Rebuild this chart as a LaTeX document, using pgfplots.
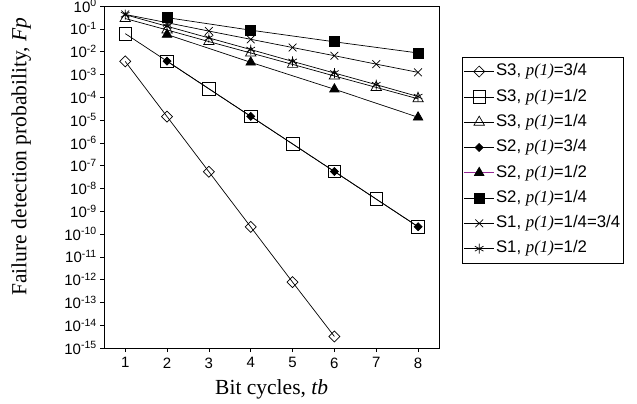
\documentclass[border=0pt]{standalone}
\usepackage{pgfplots}
\pgfplotsset{compat=1.18}
\usepackage{fontspec}
\setmainfont{Liberation Serif}
\newfontfamily\arial{Liberation Sans}
\definecolor{legpurple}{RGB}{150,40,150}
\newcommand\pp{{\rmfamily\itshape p(1)}}
\pgfplotsset{purplelegend/.style={legend image code/.code={\draw[legpurple, line width=0.7pt] (0pt,0pt) -- (30pt,0pt);
    \draw[##1] plot[only marks] coordinates {(15pt,0pt)};}}}
\begin{document}
\begin{tikzpicture}[x=1pt,y=1pt]
\useasboundingbox (-104.3,-56) rectangle (532.7,348);
\begin{axis}[
  at={(0pt,0pt)}, anchor=south west,
  scale only axis, width=334.7pt, height=342pt,
  xmin=0.5, xmax=8.5, ymode=log, ymin=1e-15, ymax=1,
  xtick={1,2,3,4,5,6,7,8},
  xticklabels={1,2,3,4,5,6,7,8},
  ytick={1e-15,1e-14,1e-13,1e-12,1e-11,1e-10,1e-9,1e-8,1e-7,1e-6,1e-5,1e-4,1e-3,1e-2,1e-1,1},
  yticklabels={10\textsuperscript{-15},10\textsuperscript{-14},10\textsuperscript{-13},10\textsuperscript{-12},10\textsuperscript{-11},10\textsuperscript{-10},10\textsuperscript{-9},10\textsuperscript{-8},10\textsuperscript{-7},10\textsuperscript{-6},10\textsuperscript{-5},10\textsuperscript{-4},10\textsuperscript{-3},10\textsuperscript{-2},10\textsuperscript{-1},10\textsuperscript{0}},
  yminorticks=false, xminorticks=false,
  tick align=outside, xtick pos=bottom, ytick pos=left,
  major tick length=4pt,
  tick style={black, line width=0.6pt},
  axis line style={black, line width=0.8pt},
  ticklabel style={font=\arial\fontsize{15}{15}\selectfont},
  xticklabel style={yshift=-2pt},
  xlabel={Bit cycles, \textit{tb}},
  ylabel={Failure detection probability, \textit{Fp}},
  label style={font=\fontsize{21.5}{24}\selectfont},
  xlabel style={at={(axis description cs:0.5,0)}, anchor=center, yshift=-41pt},
  ylabel style={at={(axis description cs:0,0.56)}, anchor=center, yshift=83pt},
  every axis plot/.append style={black, line width=0.7pt},
  legend cell align=left,
  legend image code/.code={\draw[mark repeat=2,mark phase=2,#1] plot coordinates {(0pt,0pt) (15pt,0pt) (30pt,0pt)};},
  legend style={at={(axis description cs:1.0687,0.851)}, anchor=north west,
    font=\arial\fontsize{16.8}{16.8}\selectfont, draw=black, line width=0.7pt,
    row sep=5.8pt, inner xsep=1.5pt, inner ysep=4.5pt,
    nodes={text height=12.5pt, text depth=4pt, inner sep=1.5pt}},
]
% S3 p=3/4
\addplot[mark=diamond, mark size=5.5pt, mark options={xscale=1.33, fill=white}] coordinates {
 (1,3.715e-3) (2,1.413e-5) (3,5.37e-8) (4,2.04e-10) (5,7.76e-13) (6,3.2e-15)};
\addlegendentry{S3, \pp=3/4}
% S3 p=1/2
\addplot[mark=square, mark size=6.3pt, mark options={fill=white}] coordinates {
 (1,6.17e-2) (2,3.80e-3) (3,2.34e-4) (4,1.445e-5) (5,8.91e-7) (6,5.50e-8) (7,3.39e-9) (8,2.09e-10)};
\addlegendentry{S3, \pp=1/2}
% S3 p=1/4
\addplot[mark=triangle, mark size=6pt, mark options={fill=white}] coordinates {
 (1,0.282) (2,0.0891) (3,0.0275) (4,8.71e-3) (5,2.75e-3) (6,8.51e-4) (7,2.69e-4) (8,8.51e-5)};
\addlegendentry{S3, \pp=1/4}
% S2 p=3/4
\addplot[mark=diamond*, mark size=4pt, mark options={xscale=1.33, fill=black}] coordinates {
 (2,3.80e-3) (4,1.445e-5) (6,5.50e-8) (8,2.09e-10)};
\addlegendentry{S2, \pp=3/4}
% S2 p=1/2
\addplot[mark=triangle*, mark size=5.5pt, mark options={fill=black}, purplelegend] coordinates {
 (2,0.0562) (4,3.39e-3) (6,2.24e-4) (8,1.32e-5)};
\addlegendentry{S2, \pp=1/2}
% S2 p=1/4
\addplot[mark=square*, mark size=5pt, mark options={fill=black}] coordinates {
 (2,0.309) (4,0.0871) (6,0.0269) (8,8.71e-3)};
\addlegendentry{S2, \pp=1/4}
% S1 p=1/4=3/4
\addplot[mark=x, mark size=5.5pt] coordinates {
 (1,0.427) (2,0.186) (3,0.0794) (4,0.0347) (5,0.0151) (6,6.61e-3) (7,2.82e-3) (8,1.23e-3)};
\addlegendentry{S1, \pp=1/4=3/4}
% S1 p=1/2
\addplot[mark=asterisk, mark size=5pt] coordinates {
 (1,0.417) (2,0.129) (3,0.0398) (4,0.0123) (5,3.72e-3) (6,1.148e-3) (7,3.55e-4) (8,1.07e-4)};
\addlegendentry{S1, \pp=1/2}
\end{axis}
\end{tikzpicture}
\end{document}
